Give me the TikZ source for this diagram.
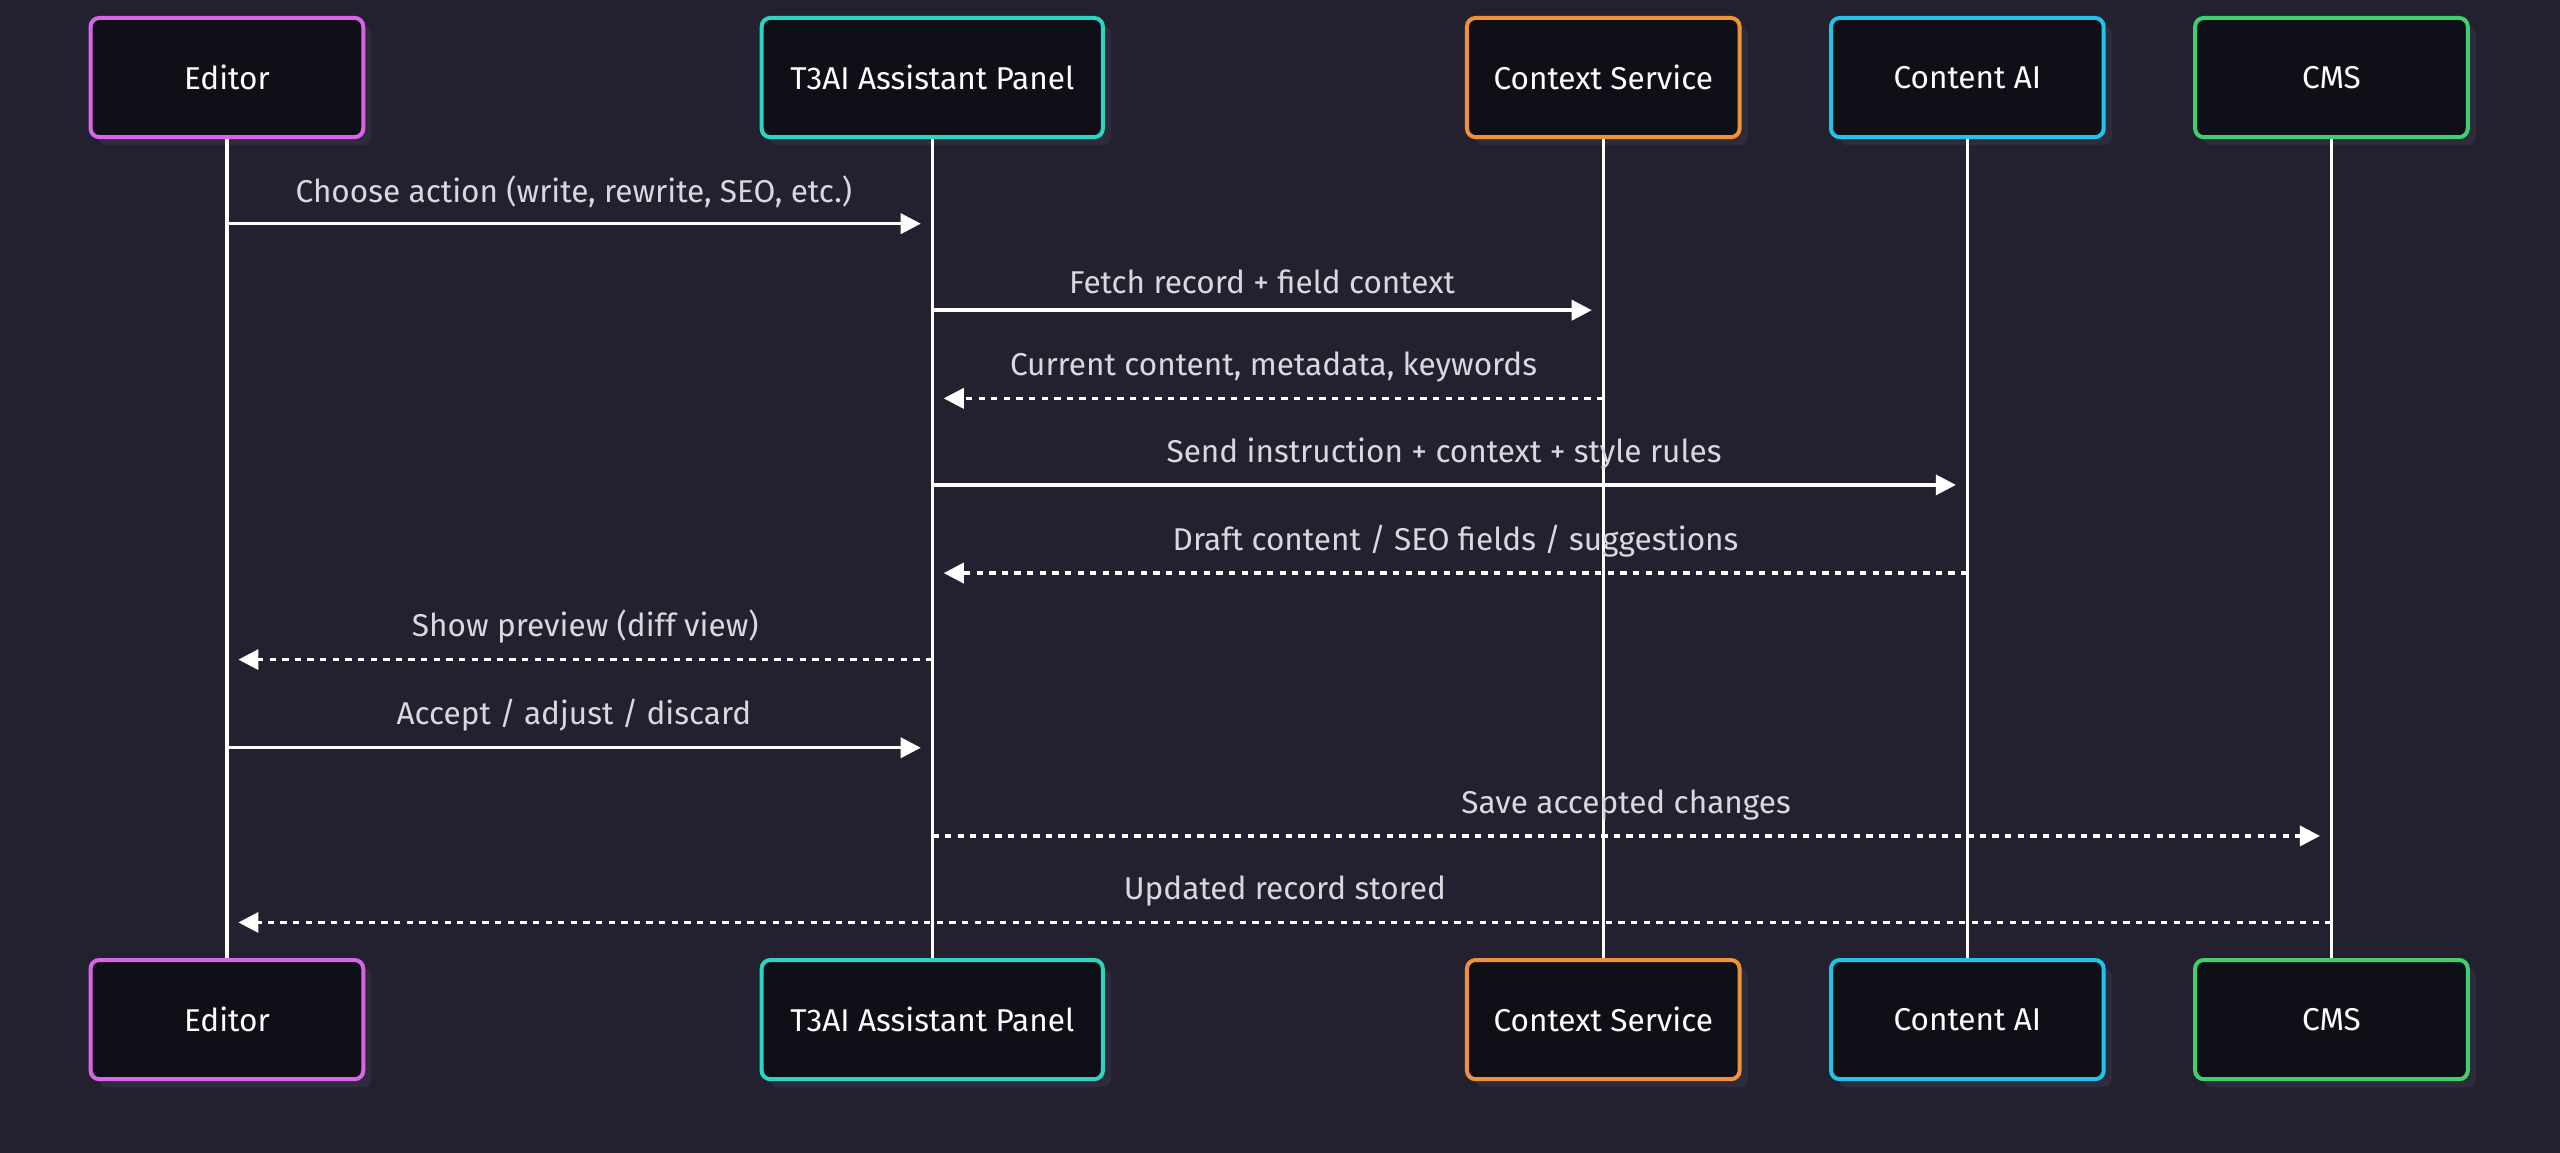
\documentclass[tikz,border=0pt]{standalone}
\usepackage{fontspec}
\setmainfont{Fira Sans}
\usetikzlibrary{arrows.meta}
\definecolor{bg}{HTML}{23212F}
\definecolor{boxfill}{HTML}{0F0F17}
\definecolor{shadowc}{HTML}{2E2C3C}
\definecolor{cEd}{HTML}{D865E8}
\definecolor{cT3}{HTML}{2DD4BF}
\definecolor{cCS}{HTML}{F0923A}
\definecolor{cAI}{HTML}{22C3E6}
\definecolor{cCMS}{HTML}{3FCF6E}
\definecolor{txt}{HTML}{D8D8DE}
\begin{document}
\begin{tikzpicture}[x=0.02cm,y=-0.02cm,
  actor/.style={draw=#1,line width=1.4pt,fill=boxfill,rounded corners=3pt,minimum height=1.46cm,text=white,font=\fontsize{11}{13}\selectfont},
  life/.style={white,line width=1.2pt},
  msg/.style={white,line width=1.2pt,-{Triangle[length=7pt,width=7pt]}},
  ret/.style={msg,dash pattern=on 2.2pt off 2.2pt},
  lbl/.style={text=txt,font=\fontsize{11}{13}\selectfont,above,inner sep=5pt}]
\fill[bg] (0,0) rectangle (1568,706);
\useasboundingbox (0,0) rectangle (1568,706);
\foreach \x/\n/\c/\t/\w in {139/Ed/cEd/Editor/167,571/T3/cT3/T3AI Assistant Panel/209,982/CS/cCS/Context Service/167,1205/AI/cAI/Content AI/167,1428/CMS/cCMS/CMS/167}{
  \fill[shadowc,rounded corners=3pt] (\x-\w/2+5,16) rectangle (\x+\w/2+5,89);
  \fill[shadowc,rounded corners=3pt] (\x-\w/2+5,593) rectangle (\x+\w/2+5,666);
  \draw[life] (\x,84) -- (\x,588);
  \node[actor=\c,minimum width=\w*0.02cm] (\n t) at (\x,47.5) {\t};
  \node[actor=\c,minimum width=\w*0.02cm] (\n b) at (\x,624.5) {\t};
}
\foreach \n/\x in {Ed/139,T3/571,CS/982,AI/1205,CMS/1428}{
  \foreach \y in {137,190,244,297,351,404,458,512,565}{\coordinate (\n\y) at (\x,\y);}
}
\draw[msg] (Ed137) -- ([xshift=-4]T3137) node[lbl,midway]{Choose action (write, rewrite, SEO, etc.)};
\draw[msg] (T3190) -- ([xshift=-4]CS190) node[lbl,midway]{Fetch record + field context};
\draw[ret] (CS244) -- ([xshift=4]T3244) node[lbl,midway]{Current content, metadata, keywords};
\draw[msg] (T3297) -- ([xshift=-4]AI297) node[lbl,midway]{Send instruction + context + style rules};
\draw[ret] (AI351) -- ([xshift=4]T3351) node[lbl,midway]{Draft content / SEO fields / suggestions};
\draw[ret] (T3404) -- ([xshift=4]Ed404) node[lbl,midway]{Show preview (diff view)};
\draw[msg] (Ed458) -- ([xshift=-4]T3458) node[lbl,midway]{Accept / adjust / discard};
\draw[ret] (T3512) -- ([xshift=-4]CMS512) node[lbl,midway]{Save accepted changes};
\draw[ret] (CMS565) -- ([xshift=4]Ed565) node[lbl,midway]{Updated record stored};
\end{tikzpicture}
\end{document}
